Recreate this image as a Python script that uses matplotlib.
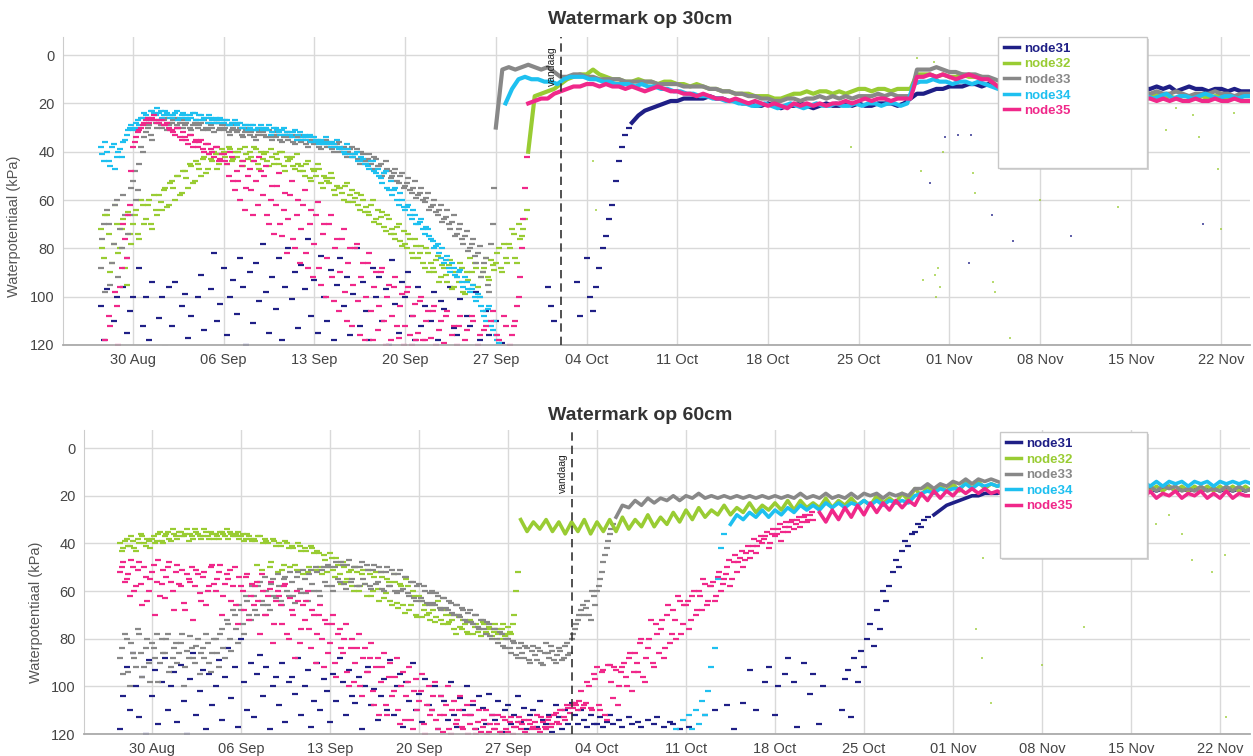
import numpy as np
import pandas as pd
import matplotlib
matplotlib.use("Agg")
import matplotlib.pyplot as plt
from matplotlib.lines import Line2D
from matplotlib.patches import Rectangle

plt.rcParams['font.family'] = ['Liberation Sans', 'DejaVu Sans']

BASE = pd.Timestamp('2021-08-30')
nodes = ['node31', 'node32', 'node33', 'node34', 'node35']
colors = ['#1f1f86', '#99cc33', '#888888', '#1ec0f0', '#f0288a']
tick_days = [0, 7, 14, 21, 28, 35, 42, 49, 56, 63, 70, 77, 84]
tick_labels = ['30 Aug', '06 Sep', '13 Sep', '20 Sep', '27 Sep', '04 Oct', '11 Oct',
               '18 Oct', '25 Oct', '01 Nov', '08 Nov', '15 Nov', '22 Nov']
vandaag_day = 33.0
y_ticks = [0, 20, 40, 60, 80, 100, 120]

# ---------------- Watermark op 30cm ----------------
# cloud: readings every 6 h from start day (days after 30 Aug); band: every 12 h
top_n31_cloud_start = -2.5
top_n31_cloud = [104, 118,
    97, 125, 110, 100, 122, 96, 115, 106, 100, 125, 88, 112, 100, 118, 94, 125,
    109, 100, 121, 96, 112, 94, 125, 104, 99, 117, 108, 125, 100, 91, 114, 125,
    97, 82, 110, 103, 88, 116, 100, 93, 107, 84, 96, 120, 90, 111, 86, 102,
    78, 98, 115, 92, 105, 84, 118, 96, 80, 101, 90, 113, 87, 97, 76, 108,
    93, 115, 83, 100, 110, 89, 118, 95, 84, 104, 92, 116, 99, 80, 112, 94,
    106, 118, 88, 100, 92, 110, 97, 120, 85, 103, 115, 94, 100, 90, 108, 118,
    96, 112, 104, 125, 110, 98, 118, 102, 105, 125, 96, 113, 116, 101, 125, 108,
    112, 125, 98, 118, 125, 106, 116, 125, 110, 125, 119, 125, 125, 125, 125, 125,
    125, 125, 125, 125, 125, 125, 125, 125, 96, 104, 110, 125, 125, 125, 125, 125,
    125, 94, 108, 125, 84, 100, 106, 96, 88, 80, 75, 68, 62, 52, 44, 38, 33, 30]
top_n31_band_start = 38.5
top_n31_band = [28, 25, 23, 22, 21, 20, 19, 19, 18, 18, 18, 18, 17, 18, 18, 19,
    19, 20, 20, 21, 21, 20, 21, 22, 21, 21, 20, 21, 22, 21, 20, 21,
    21, 20, 21, 20, 21, 21, 20, 20, 20, 21, 20, 18, 16, 16, 15, 14,
    14, 13, 13, 13, 12, 12, 13, 12, 13, 14, 14, 14, 14, 14, 14, 14,
    14, 14, 14, 14, 14, 14, 14, 14, 14, 14, 14, 14, 14, 14, 14, 14,
    14, 13, 14, 13, 15, 14, 13, 14, 14, 15, 14, 14, 15, 14, 15, 15, 15]

top_n32_cloud_start = -2.5
top_n32_cloud = [72, 84,
    66, 90, 78, 70, 80, 68, 95, 74, 70, 64, 76, 62, 68, 60, 72, 64,
    58, 64, 55, 62, 52, 60, 50, 57, 48, 55, 46, 52, 45, 50, 42, 47,
    43, 40, 47, 41, 40, 45, 39, 43, 42, 39, 46, 41, 40, 44, 39, 47,
    43, 40, 46, 42, 41, 45, 40, 48, 44, 42, 47, 45, 46, 50, 44, 52,
    48, 45, 53, 50, 52, 49, 56, 54, 55, 60, 53, 58, 61, 57, 64, 60,
    63, 66, 60, 68, 70, 65, 73, 68, 72, 76, 70, 79, 78, 74, 82, 76,
    84, 79, 88, 82, 86, 90, 83, 92, 88, 94, 85, 96, 92, 86, 98, 90,
    84, 95, 88, 100, 90, 84, 93, 87, 86, 80, 90, 84, 78, 72, 84, 70, 75, 68]
top_n32_cloud_b_start = -2.375
top_n32_cloud_b = [80, 66,
    74, 86, 62, 82, 72, 88, 65, 78, 66, 74, 60, 70, 62, 70, 58, 66,
    61, 56, 63, 53, 55, 50, 58, 48, 51, 45, 53, 44, 47, 43, 49, 41,
    44, 41, 45, 39, 42, 38, 44, 40, 40, 44, 38, 43, 42, 38, 45, 40,
    41, 44, 39, 45, 43, 40, 46, 42, 43, 46, 41, 48, 48, 45, 51, 47,
    50, 47, 55, 51, 53, 51, 58, 55, 57, 54, 61, 56, 59, 62, 58, 65,
    65, 62, 69, 64, 67, 71, 66, 74, 74, 71, 77, 73, 80, 76, 84, 79,
    82, 86, 80, 90, 88, 85, 94, 87, 91, 87, 97, 90, 94, 88, 99, 93,
    90, 86, 96, 92, 88, 92, 85, 89, 82, 88, 78, 86, 80, 74, 86, 76, 72, 64]
top_n32_band_start = 30.5
top_n32_band = [40, 17, 16, 15, 14, 12, 10, 9, 8, 8, 6, 8, 9, 10, 10, 11,
    11, 10, 11, 11, 12, 11, 11, 12, 12, 13, 12, 13, 14, 14, 15, 15,
    16, 16, 16, 17, 17, 17, 18, 18, 17, 16, 16, 15, 16, 15, 15, 16,
    15, 16, 15, 14, 14, 15, 14, 14, 15, 14, 14, 14, 8, 8, 8, 9,
    8, 9, 9, 8, 9, 9, 9, 10, 12, 14, 15, 15, 15, 15, 16, 16,
    16, 16, 16, 16, 16, 16, 17, 17, 17, 17, 17, 17, 17, 17, 17, 17,
    17, 16, 18, 17, 18, 17, 17, 18, 17, 18, 17, 17, 18, 18, 17, 17, 17]

top_n33_cloud_start = -2.5
top_n33_cloud = [88, 70,
    64, 95, 78, 60, 72, 58, 84, 66, 52, 60, 45, 40, 32, 29, 35, 28,
    27, 30, 26, 29, 28, 26, 30, 27, 29, 27, 31, 28, 30, 28, 27, 31,
    29, 32, 28, 30, 31, 29, 33, 30, 32, 30, 34, 31, 33, 31, 35, 32,
    32, 34, 31, 35, 34, 32, 36, 33, 35, 33, 37, 34, 36, 34, 38, 35,
    37, 35, 39, 36, 38, 36, 40, 37, 40, 38, 42, 39, 42, 39, 45, 41,
    44, 41, 47, 43, 46, 50, 44, 48, 50, 47, 53, 49, 54, 51, 57, 52,
    58, 55, 61, 57, 63, 60, 66, 62, 68, 64, 72, 66, 74, 70, 78, 73,
    80, 76, 86, 79, 90, 84, 98, 70]
top_n33_cloud_b_start = -2.375
top_n33_cloud_b = [76, 98,
    70, 86, 62, 92, 80, 66, 74, 55, 48, 56, 38, 34, 30, 33, 27, 30,
    29, 27, 31, 28, 27, 29, 28, 30, 28, 30, 29, 27, 29, 31, 30, 28,
    30, 28, 31, 29, 30, 32, 31, 29, 31, 33, 32, 30, 32, 34, 33, 31,
    33, 31, 34, 32, 33, 35, 34, 32, 34, 36, 35, 33, 35, 37, 36, 34,
    36, 38, 37, 35, 37, 39, 38, 36, 39, 41, 40, 38, 41, 43, 40, 44,
    43, 45, 42, 46, 45, 49, 47, 51, 49, 52, 50, 55, 53, 56, 55, 59,
    57, 60, 59, 64, 62, 65, 64, 69, 67, 70, 69, 75, 72, 76, 75, 81,
    78, 83, 82, 92, 86, 95, 78, 55]
top_n33_band_start = 28.0
top_n33_band = [30, 6, 5, 6, 5, 4, 5, 6, 5, 7, 9, 9, 8, 8, 9, 9,
    10, 10, 10, 10, 11, 11, 11, 11, 11, 12, 12, 12, 12, 13, 13, 13,
    13, 14, 14, 15, 15, 16, 16, 17, 17, 18, 18, 19, 19, 18, 18, 19,
    18, 18, 17, 18, 17, 18, 17, 18, 17, 17, 17, 16, 17, 16, 17, 17,
    17, 6, 6, 6, 5, 6, 7, 7, 8, 8, 8, 9, 9, 10, 11, 12,
    12, 13, 13, 13, 14, 14, 14, 14, 14, 15, 15, 15, 15, 15, 15, 15,
    15, 15, 15, 15, 15, 16, 15, 16, 16, 15, 16, 17, 16, 16, 16, 15,
    16, 16, 17, 16, 16, 16]

top_n34_cloud_start = -2.5
top_n34_cloud = [38, 44,
    40, 46, 37, 42, 39, 36, 33, 30, 31, 28, 29, 26, 25, 27, 23, 25,
    24, 26, 23, 25, 26, 24, 27, 25, 25, 27, 26, 24, 27, 25, 26, 28,
    26, 28, 27, 26, 28, 27, 29, 28, 29, 28, 30, 29, 30, 29, 31, 30,
    31, 30, 29, 32, 30, 32, 31, 33, 32, 34, 31, 33, 35, 33, 34, 36,
    34, 36, 35, 37, 36, 38, 37, 35, 38, 40, 37, 41, 42, 40, 44, 43,
    45, 47, 44, 49, 50, 53, 48, 56, 58, 55, 62, 60, 64, 62, 68, 66,
    70, 68, 74, 72, 76, 80, 78, 84, 86, 83, 90, 88, 92, 89, 96, 94,
    98, 95, 102, 100, 106, 110, 104, 114, 116, 119, 125]
top_n34_cloud_b_start = -2.375
top_n34_cloud_b = [41, 36,
    44, 38, 47, 40, 42, 35, 31, 29, 30, 27, 26, 24, 26, 23, 24, 22,
    23, 25, 24, 26, 25, 23, 26, 24, 26, 25, 24, 27, 25, 27, 26, 25,
    27, 26, 28, 27, 27, 29, 28, 27, 28, 30, 29, 31, 29, 31, 30, 29,
    30, 31, 33, 30, 31, 33, 30, 32, 33, 32, 35, 32, 34, 35, 33, 36,
    35, 37, 36, 34, 37, 36, 38, 39, 39, 41, 39, 42, 41, 44, 42, 45,
    46, 44, 48, 47, 51, 49, 55, 52, 56, 60, 57, 63, 63, 66, 64, 70,
    69, 72, 71, 75, 77, 79, 82, 80, 85, 88, 86, 91, 90, 94, 92, 97,
    97, 100, 99, 104, 108, 105, 112, 110, 118, 122]
top_n34_band_start = 28.75
top_n34_band = [20, 14, 10, 9, 10, 10, 11, 11, 12, 10, 9, 9, 9, 10, 10, 11,
    11, 12, 12, 12, 13, 12, 13, 13, 14, 14, 15, 15, 16, 16, 17, 17,
    18, 18, 19, 19, 20, 20, 21, 21, 20, 21, 22, 21, 20, 21, 22, 21,
    20, 21, 21, 20, 21, 21, 20, 21, 20, 20, 21, 20, 20, 21, 20, 12,
    11, 11, 10, 11, 11, 12, 11, 11, 12, 11, 12, 13, 14, 15, 15, 15,
    15, 16, 16, 16, 16, 16, 16, 16, 16, 17, 17, 17, 17, 17, 17, 17,
    17, 17, 17, 17, 18, 17, 16, 18, 17, 17, 18, 17, 16, 17, 18, 17,
    17, 18, 17, 17]

top_n35_cloud_start = -2.5
top_n35_cloud = [125, 125,
    125, 112, 125, 104, 96, 70, 84, 62, 38, 34, 31, 29, 27, 28, 26, 27,
    28, 27, 29, 30, 31, 33, 30, 35, 34, 37, 33, 36, 38, 35, 40, 37,
    39, 42, 38, 43, 41, 45, 40, 52, 48, 60, 44, 55, 47, 66, 52, 42,
    58, 46, 70, 54, 62, 49, 75, 57, 68, 52, 80, 60, 72, 56, 88, 64,
    78, 61, 95, 70, 84, 66, 102, 76, 90, 72, 110, 80, 95, 78, 116, 86,
    100, 82, 118, 90, 104, 88, 120, 95, 108, 92, 117, 99, 112, 96, 120, 103,
    115, 100, 118, 106, 117, 104, 125, 110, 119, 106, 125, 112, 120, 108, 125, 114,
    125, 110, 125, 116, 125, 112, 125, 106, 125, 118, 125, 112, 125, 116, 110, 100,
    80, 55]
top_n35_cloud_b_start = -2.375
top_n35_cloud_b = [125, 118,
    108, 125, 98, 120, 88, 76, 66, 48, 36, 32, 30, 28, 26, 27, 25, 28,
    27, 29, 28, 31, 32, 30, 34, 32, 35, 33, 38, 35, 36, 39, 37, 41,
    40, 38, 44, 41, 44, 50, 42, 56, 52, 46, 64, 50, 56, 44, 62, 48,
    50, 66, 60, 74, 54, 70, 64, 82, 58, 76, 66, 86, 62, 82, 70, 92,
    66, 88, 74, 100, 70, 92, 80, 106, 76, 98, 86, 112, 80, 102, 92, 118,
    86, 106, 96, 114, 90, 110, 100, 118, 96, 112, 104, 120, 98, 116, 108, 118,
    102, 118, 110, 125, 106, 120, 114, 125, 108, 125, 116, 125, 112, 125, 118, 125,
    108, 125, 120, 125, 114, 125, 110, 125, 116, 125, 108, 125, 120, 112, 104, 92,
    68, 42]
top_n35_band_start = 30.5
top_n35_band = [20, 19, 18, 18, 16, 15, 14, 13, 13, 12, 12, 13, 12, 13, 13, 14,
    13, 14, 15, 14, 13, 14, 15, 15, 16, 16, 17, 16, 17, 18, 18, 19,
    18, 19, 20, 19, 20, 21, 20, 21, 22, 20, 21, 20, 21, 20, 21, 20,
    20, 19, 20, 19, 18, 19, 18, 18, 19, 18, 18, 18, 9, 9, 8, 9,
    8, 9, 10, 9, 8, 9, 10, 10, 12, 14, 15, 16, 16, 17, 17, 17,
    17, 17, 18, 18, 18, 18, 18, 18, 18, 18, 18, 18, 18, 18, 18, 18,
    18, 19, 18, 19, 18, 19, 19, 18, 19, 19, 18, 19, 19, 18, 19, 19, 19]

# isolated readings (day, kPa)
top_stray_n31 = [(62.7, 34), (63.7, 33), (64.7, 33), (61.5, 53), (66.3, 66),
                 (64.5, 86), (67.9, 77), (72.4, 75), (82.6, 70)]
top_stray_n32 = [(60.5, 1), (61.8, 3), (62.1, 88), (61.9, 91), (62.3, 96), (62.0, 100),
                 (61.0, 93), (64.8, 49), (65.0, 57), (66.4, 94), (66.5, 98), (70.0, 60),
                 (67.7, 117), (55.4, 38), (76.0, 63), (79.7, 31), (82.3, 34), (81.8, 25),
                 (83.7, 47), (84.0, 72), (80.5, 22), (85.0, 24), (60.3, 10), (62.5, 40),
                 (60.8, 48), (35.5, 44), (35.7, 64)]

# ---------------- Watermark op 60cm ----------------
bot_n31_cloud_start = -2.5
bot_n31_cloud = [118, 104,
    92, 110, 86, 100, 113, 96, 120, 89, 104, 93, 116, 98, 88, 110, 100, 94,
    115, 91, 106, 120, 97, 86, 112, 102, 93, 118, 95, 108, 100, 89, 114, 96,
    84, 105, 92, 117, 80, 98, 110, 90, 113, 95, 87, 104, 92, 118, 100, 96,
    108, 90, 115, 98, 96, 103, 88, 112, 100, 93, 117, 106, 90, 110, 97, 102,
    115, 95, 106, 88, 98, 112, 93, 104, 107, 96, 118, 100, 92, 108, 101, 114,
    104, 97, 110, 89, 112, 100, 95, 117, 98, 106, 90, 110, 103, 115, 97, 108,
    110, 100, 118, 104, 106, 114, 98, 112, 117, 105, 110, 100, 112, 108, 118, 104,
    109, 116, 103, 112, 114, 106, 119, 110, 108, 116, 112, 104, 115, 109, 118, 112,
    110, 117, 106, 114, 116, 112, 119, 108, 113, 118, 110, 116, 107, 112, 116, 110,
    114, 117, 112, 116, 116, 113, 117, 115, 112, 116, 125, 114, 117, 125, 113, 116,
    125, 115, 117, 125, 114, 125, 116, 113, 125, 117, 125, 115, 116, 125, 118, 125,
    125, 117, 125, 125, 125, 125, 112, 125, 125, 110, 125, 125, 125, 108, 125, 118,
    125, 125, 107, 125, 93, 125, 110, 125, 125, 98, 92, 125, 112, 100, 125, 95,
    88, 125, 98, 117, 125, 90, 125, 103, 95, 125, 116, 100, 125, 125, 125, 125,
    125, 110, 97, 93, 113, 88, 98, 85, 92, 80, 74, 83, 68, 76, 60, 64,
    58, 52, 47, 50, 43, 39, 41, 36, 35, 32, 33, 30, 29]
bot_n31_band_start = 61.5
bot_n31_band = [28, 26, 24, 23, 22, 21, 20, 20, 19, 19, 19, 18, 18, 18, 18, 18,
    18, 18, 18, 18, 18, 18, 18, 18, 18, 18, 18, 18, 18, 18, 18, 18,
    18, 17, 17, 18, 17, 16, 18, 17, 18, 17, 18, 17, 17, 18, 17, 18, 17, 18, 17]

bot_n32_cloud_start = -2.5
bot_n32_cloud = [40, 42,
    38, 41, 39, 43, 40, 37, 41, 39, 38, 40, 36, 39, 37, 35, 39, 36,
    38, 35, 37, 34, 36, 38, 35, 37, 37, 35, 38, 36, 36, 38, 35, 37,
    38, 36, 37, 35, 37, 39, 36, 38, 38, 49, 37, 40, 39, 50, 38, 41,
    40, 51, 39, 42, 41, 49, 40, 43, 42, 52, 41, 44, 43, 50, 45, 52,
    44, 51, 46, 53, 48, 56, 52, 58, 50, 60, 53, 57, 51, 62, 54, 59,
    52, 63, 55, 64, 53, 65, 57, 66, 55, 68, 60, 70, 62, 71, 66, 69,
    66, 73, 64, 72, 68, 74, 70, 76, 70, 75, 72, 77, 72, 78, 74, 76,
    73, 77, 75, 79, 74, 78, 76, 79, 75, 78, 70, 52]
bot_n32_cloud_b_start = -2.375
bot_n32_cloud_b = [43, 39,
    41, 37, 42, 38, 36, 40, 38, 42, 37, 39, 35, 40, 36, 38, 34, 37,
    35, 37, 36, 39, 37, 34, 36, 38, 34, 37, 35, 38, 37, 35, 36, 34,
    35, 37, 36, 38, 36, 38, 37, 39, 39, 37, 51, 38, 40, 48, 39, 52,
    41, 49, 40, 50, 42, 51, 41, 53, 43, 50, 42, 51, 44, 53, 47, 50,
    46, 54, 49, 57, 50, 55, 51, 60, 52, 58, 51, 62, 53, 60, 52, 64,
    54, 61, 56, 66, 56, 67, 58, 69, 58, 66, 62, 71, 64, 68, 70, 72,
    68, 71, 67, 74, 70, 73, 72, 78, 71, 76, 74, 78, 73, 75, 77, 79,
    74, 78, 76, 77, 76, 80, 74, 78, 77, 74, 60]
bot_n32_band_start = 29.0
bot_n32_band = [30, 35, 31, 34, 30, 35, 31, 36, 31, 35, 30, 36, 31, 35, 30, 35,
    29, 34, 30, 33, 28, 33, 29, 32, 27, 31, 26, 30, 25, 29, 26, 28,
    24, 28, 25, 27, 23, 27, 24, 26, 23, 26, 22, 26, 22, 25, 23, 25,
    21, 25, 22, 24, 21, 24, 22, 24, 20, 23, 21, 23, 19, 22, 17, 20,
    16, 19, 16, 18, 15, 18, 14, 17, 14, 17, 15, 16, 15, 17, 15, 17,
    15, 17, 15, 17, 15, 17, 15, 17, 15, 17, 15, 17, 15, 17, 15, 17,
    16, 17, 16, 18, 16, 18, 16, 18, 16, 18, 16, 18, 16, 18, 16, 18,
    16, 18, 16, 18]

bot_n33_cloud_start = -2.5
bot_n33_cloud = [88, 95,
    80, 100, 86, 92, 78, 96, 84, 90, 82, 88, 98, 80, 86, 78, 92, 84,
    90, 82, 100, 85, 79, 88, 83, 95, 84, 78, 90, 86, 80, 92, 76, 88,
    74, 85, 70, 82, 68, 78, 64, 72, 62, 70, 56, 66, 60, 68, 55, 63,
    58, 66, 54, 62, 56, 65, 52, 61, 55, 64, 51, 60, 52, 62, 50, 58,
    50, 60, 48, 56, 49, 59, 47, 55, 50, 58, 48, 57, 51, 59, 49, 56,
    52, 60, 50, 58, 53, 61, 51, 59, 54, 62, 56, 64, 57, 64, 60, 66,
    60, 66, 62, 68, 63, 68, 65, 70, 66, 71, 68, 73, 68, 74, 70, 76,
    72, 78, 74, 80, 76, 82, 78, 84, 80, 86, 82, 88, 82, 88, 84, 90,
    83, 89, 85, 91, 82, 88, 85, 90, 84, 89, 83, 87, 80, 76, 72, 68,
    70, 64, 72, 62, 60, 55, 48, 42, 36, 32]
bot_n33_cloud_b_start = -2.375
bot_n33_cloud_b = [84, 78,
    94, 82, 88, 76, 86, 92, 80, 98, 84, 78, 90, 86, 80, 94, 88, 82,
    86, 78, 92, 88, 84, 90, 80, 86, 88, 82, 94, 80, 86, 78, 84, 72,
    80, 68, 76, 66, 74, 62, 70, 58, 68, 58, 64, 54, 66, 57, 62, 53,
    64, 55, 60, 52, 62, 54, 59, 51, 61, 53, 57, 50, 60, 51, 56, 49,
    58, 50, 55, 48, 57, 49, 56, 50, 58, 50, 55, 49, 58, 51, 57, 50,
    59, 52, 58, 51, 60, 53, 60, 54, 61, 56, 63, 58, 63, 58, 65, 61,
    65, 61, 67, 63, 67, 64, 69, 66, 70, 67, 72, 69, 73, 70, 75, 72,
    76, 73, 79, 76, 80, 77, 83, 80, 84, 81, 87, 84, 86, 83, 89, 85,
    87, 84, 90, 86, 86, 83, 89, 87, 85, 88, 82, 86, 78, 74, 70, 66,
    67, 70, 60, 66, 58, 52, 45, 39, 34]
bot_n33_band_start = 36.5
bot_n33_band = [29, 24, 25, 22, 24, 21, 23, 21, 22, 20, 22, 20, 21, 19, 21, 20,
    21, 20, 21, 20, 21, 20, 21, 20, 21, 20, 21, 20, 21, 19, 21, 20,
    21, 19, 21, 20, 21, 19, 21, 19, 20, 19, 21, 19, 20, 19, 20, 17,
    17, 15, 17, 15, 16, 14, 15, 13, 15, 13, 14, 13, 14, 15, 15, 16,
    16, 16, 16, 16, 16, 16, 16, 16, 16, 16, 16, 16, 16, 16, 16, 16,
    16, 17, 16, 17, 16, 18, 16, 17, 16, 18, 17, 18, 16, 18, 17, 18,
    16, 18, 16, 18, 17]

bot_n34_cloud_start = 41.0
bot_n34_cloud = [125, 118, 125, 114, 125, 112, 118, 110, 116, 106, 112, 102,
    92, 84, 55, 42, 36]
bot_n34_band_start = 45.5
bot_n34_band = [32, 28, 30, 27, 29, 26, 29, 26, 28, 25, 27, 24, 26, 24, 26, 23,
    25, 23, 25, 23, 24, 22, 24, 22, 24, 22, 23, 22, 23, 20, 19, 18,
    19, 17, 18, 17, 17, 15, 17, 15, 16, 15, 16, 15, 16, 15, 16, 15,
    16, 15, 16, 15, 16, 15, 16, 15, 16, 15, 16, 15, 16, 15, 16, 15,
    16, 14, 16, 14, 16, 14, 15, 14, 16, 14, 15, 14, 16, 14, 15, 14,
    15, 14, 15]

bot_n35_cloud_start = -2.5
bot_n35_cloud = [52, 48,
    55, 62, 50, 58, 48, 66, 54, 60, 52, 70, 47, 57, 63, 50, 56, 68,
    49, 58, 65, 53, 56, 72, 51, 61, 54, 66, 58, 49, 60, 52, 70, 57,
    55, 64, 50, 74, 58, 68, 53, 62, 66, 56, 78, 60, 70, 59, 82, 64,
    62, 74, 57, 80, 68, 88, 64, 76, 72, 60, 84, 70, 78, 66, 92, 74,
    82, 70, 96, 76, 86, 74, 100, 80, 90, 78, 104, 84, 94, 82, 108, 88,
    98, 86, 112, 90, 102, 88, 116, 94, 104, 92, 118, 97, 106, 95, 120, 100,
    110, 98, 118, 104, 112, 100, 120, 106, 114, 104, 118, 108, 116, 106, 120, 110,
    117, 110, 119, 112, 118, 112, 120, 114, 119, 113, 117, 115, 118, 114, 120, 116,
    117, 112, 119, 115, 118, 113, 116, 111, 116, 110, 114, 109, 108, 107, 110, 102,
    108, 98, 109, 95, 92, 110, 93, 114, 91, 105, 93, 100, 92, 96, 88, 102,
    86, 94, 80, 98, 84, 72, 92, 78, 76, 88, 70, 82, 68, 80, 64, 74,
    66, 76, 62, 70, 60, 68, 57, 64, 58, 64, 54, 60, 55, 50, 58, 48,
    52, 46, 50, 44, 46, 41, 44, 39, 40, 37, 42, 36, 37, 34, 39, 33,
    35, 31, 34, 30, 33, 29, 31, 28, 30]
bot_n35_cloud_b_start = -2.375
bot_n35_cloud_b = [50, 56,
    53, 47, 60, 51, 57, 50, 64, 55, 49, 56, 62, 51, 54, 48, 60, 52,
    57, 51, 68, 55, 50, 58, 53, 64, 52, 60, 50, 57, 55, 49, 62, 53,
    51, 58, 66, 54, 60, 54, 72, 57, 58, 64, 53, 70, 62, 56, 74, 60,
    66, 58, 78, 63, 70, 60, 82, 66, 64, 76, 68, 90, 70, 80, 72, 86,
    74, 90, 78, 84, 80, 94, 84, 98, 84, 100, 88, 94, 88, 102, 92, 112,
    92, 108, 96, 104, 96, 110, 100, 114, 98, 114, 102, 110, 102, 116, 108, 112,
    104, 114, 112, 119, 108, 118, 110, 116, 110, 117, 112, 120, 112, 118, 115, 119,
    114, 120, 116, 118, 116, 119, 113, 118, 115, 120, 117, 113, 116, 119, 114, 118,
    115, 118, 113, 117, 114, 117, 112, 115, 110, 113, 108, 111, 109, 108, 106, 109,
    107, 100, 110, 97, 108, 94, 112, 91, 98, 92, 108, 94, 90, 100, 86, 94,
    90, 82, 96, 88, 80, 90, 74, 86, 72, 84, 66, 78, 72, 62, 78, 66,
    64, 72, 60, 68, 62, 55, 66, 58, 56, 62, 52, 57, 53, 47, 55, 45,
    48, 43, 47, 41, 43, 38, 41, 37, 38, 35, 40, 34, 36, 32, 35, 31,
    33, 30, 32, 29, 31, 28, 30, 27]
bot_n35_band_start = 52.5
bot_n35_band = [27, 31, 26, 30, 25, 29, 24, 28, 23, 27, 23, 26, 22, 25, 22, 24,
    19, 22, 18, 21, 18, 20, 17, 19, 17, 19, 17, 19, 18, 20, 18, 20,
    18, 20, 18, 20, 18, 20, 18, 20, 18, 20, 18, 20, 18, 20, 18, 20,
    18, 20, 18, 21, 18, 21, 19, 20, 18, 21, 19, 20, 18, 21, 19, 21,
    18, 21, 19, 20, 20]

bot_stray_n32 = [(65.4, 46), (64.8, 76), (65.3, 88), (66.0, 107), (70.0, 91),
                 (73.3, 75), (81.8, 47), (83.4, 52), (84.4, 45), (84.5, 113),
                 (81.0, 36), (80.0, 28), (79.0, 32)]

panels = [
    dict(title='Watermark op 30cm', rect=[0.0503, 0.5437, 0.9473, 0.4074],
         xlim=(-5.4, 86.2), ylim=(120, -7.5), lw=3.0,
         clouds=[(top_n31_cloud_start, top_n31_cloud, 0),
                 (top_n32_cloud_start, top_n32_cloud, 1),
                 (top_n32_cloud_b_start, top_n32_cloud_b, 1),
                 (top_n33_cloud_start, top_n33_cloud, 2),
                 (top_n33_cloud_b_start, top_n33_cloud_b, 2),
                 (top_n34_cloud_start, top_n34_cloud, 3),
                 (top_n34_cloud_b_start, top_n34_cloud_b, 3),
                 (top_n35_cloud_start, top_n35_cloud, 4),
                 (top_n35_cloud_b_start, top_n35_cloud_b, 4)],
         bands=[(top_n31_band_start, top_n31_band), (top_n32_band_start, top_n32_band),
                (top_n33_band_start, top_n33_band), (top_n34_band_start, top_n34_band),
                (top_n35_band_start, top_n35_band)],
         strays=[(top_stray_n31, colors[0]), (top_stray_n32, colors[1])],
         vtext_y=-3.5, title_y=1 - 20 / 756, ylabel_x=-0.0354, ylabel_y=0.385,
         legend_box=(0.7877, 0.5747, 0.9132, 1.0)),
    dict(title='Watermark op 60cm', rect=[0.0670, 0.0291, 0.9306, 0.4021],
         xlim=(-5.35, 86.36), ylim=(120, -7.6), lw=2.6,
         clouds=[(bot_n31_cloud_start, bot_n31_cloud, 0),
                 (bot_n32_cloud_start, bot_n32_cloud, 1),
                 (bot_n32_cloud_b_start, bot_n32_cloud_b, 1),
                 (bot_n33_cloud_start, bot_n33_cloud, 2),
                 (bot_n33_cloud_b_start, bot_n33_cloud_b, 2),
                 (bot_n34_cloud_start, bot_n34_cloud, 3),
                 (bot_n35_cloud_start, bot_n35_cloud, 4),
                 (bot_n35_cloud_b_start, bot_n35_cloud_b, 4)],
         bands=[(bot_n31_band_start, bot_n31_band), (bot_n32_band_start, bot_n32_band),
                (bot_n33_band_start, bot_n33_band), (bot_n34_band_start, bot_n34_band),
                (bot_n35_band_start, bot_n35_band)],
         strays=[(bot_stray_n32, colors[1])],
         vtext_y=2.0, title_y=1 - 415 / 756, ylabel_x=-0.0352, ylabel_y=0.40,
         legend_box=(0.7856, 0.579, 0.9117, 0.993)),
]


def day(d):
    return BASE + pd.to_timedelta(d, unit='D')


fig = plt.figure(figsize=(12.53, 7.56), dpi=100, facecolor='white')

for p in panels:
    ax = fig.add_axes(p['rect'])
    ax.set_facecolor('white')
    for start, vals, i in p['clouds']:
        t = pd.date_range(day(start), periods=len(vals), freq='6h')
        ax.plot(t, vals, ls='none', marker='_', ms=4, mew=1.6, color=colors[i],
                zorder=2 + i * 0.1)
    for i, (start, vals) in enumerate(p['bands']):
        t = pd.date_range(day(start), periods=len(vals), freq='12h')
        ax.plot(t, vals, color=colors[i], lw=p['lw'], zorder=3 + i * 0.1)
    for pts, c in p['strays']:
        ax.scatter([day(d) for d, v in pts], [v for d, v in pts], s=4, marker='s',
                   color=c, alpha=0.7, linewidths=0, zorder=2)

    ax.set_xlim(day(p['xlim'][0]), day(p['xlim'][1]))
    ax.set_ylim(*p['ylim'])
    ax.set_xticks([day(d) for d in tick_days], tick_labels)
    ax.set_yticks(y_ticks)
    ax.tick_params(length=0, labelsize=10.5, labelcolor='#444444', pad=6)
    ax.grid(True, color='#d9d9d9', lw=1)
    ax.set_axisbelow(True)
    for s in ['top', 'right']:
        ax.spines[s].set_visible(False)
    ax.spines['left'].set_color('#cccccc')
    ax.spines['bottom'].set_color('#aaaaaa')
    ax.spines['bottom'].set_linewidth(1.3)
    ax.set_ylabel('Waterpotentiaal (kPa)', fontsize=10.5, color='#555555')
    ax.yaxis.set_label_coords(p['ylabel_x'], p['ylabel_y'])

    ax.axvline(day(vandaag_day), color='#333333', lw=1.2, ls=(0, (5, 3)), zorder=4)
    ax.text(day(vandaag_day - 0.25), p['vtext_y'], 'vandaag', rotation=90, ha='right',
            va='top', fontsize=7.5, color='#222222', zorder=4)

    fig.text(0.511, p['title_y'], p['title'], ha='center', va='center', fontsize=14,
             fontweight='bold', color='#333333')

    x0, y0, x1, y1 = p['legend_box']
    ax.add_patch(Rectangle((x0 + 0.002, y0 - 0.007), x1 - x0, y1 - y0, transform=ax.transAxes,
                           fc='#bbbbbb', ec='none', alpha=0.6, zorder=8, clip_on=False))
    ax.add_patch(Rectangle((x0, y0), x1 - x0, y1 - y0, transform=ax.transAxes,
                           fc='white', ec='#c8c8c8', lw=1, zorder=9, clip_on=False))
    handles = [Line2D([0], [0], color=c, lw=2.5) for c in colors]
    leg = ax.legend(handles, nodes, loc='upper left', bbox_to_anchor=(x0 + 0.003, y1 - 0.01),
                    frameon=False, prop={'weight': 'bold', 'size': 9.5},
                    handlelength=1.1, handletextpad=0.4, labelspacing=0.25,
                    borderaxespad=0, borderpad=0.2)
    for txt, c in zip(leg.get_texts(), colors):
        txt.set_color(c)
    leg.set_zorder(10)

fig.savefig('out.png', dpi=100, facecolor='white')
